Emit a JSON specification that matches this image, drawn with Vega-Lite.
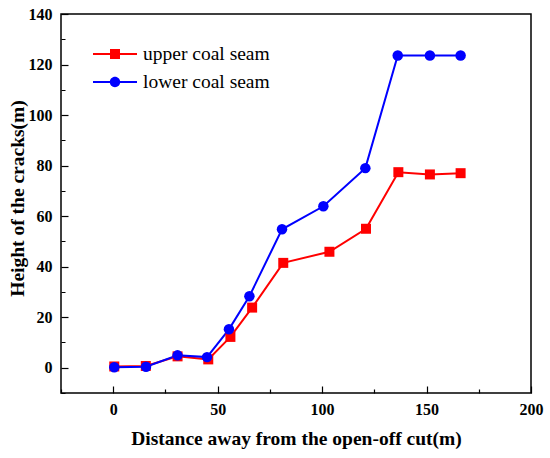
{
  "$schema": "https://vega.github.io/schema/vega-lite/v6.json",
  "width": 470,
  "height": 379,
  "autosize": "none",
  "padding": {"left": 61, "top": 14, "right": 19, "bottom": 65},
  "background": "white",
  "data": {
    "values": [
      {"series": "upper coal seam", "distance": 0.5, "height": 0.5},
      {"series": "upper coal seam", "distance": 15.6, "height": 0.7},
      {"series": "upper coal seam", "distance": 30.8, "height": 4.5},
      {"series": "upper coal seam", "distance": 45.5, "height": 3.3},
      {"series": "upper coal seam", "distance": 56.1, "height": 12.2},
      {"series": "upper coal seam", "distance": 66.5, "height": 23.8},
      {"series": "upper coal seam", "distance": 81.4, "height": 41.5},
      {"series": "upper coal seam", "distance": 103.5, "height": 45.9},
      {"series": "upper coal seam", "distance": 121, "height": 55},
      {"series": "upper coal seam", "distance": 136.5, "height": 77.4},
      {"series": "upper coal seam", "distance": 151.6, "height": 76.5},
      {"series": "upper coal seam", "distance": 166.3, "height": 77},
      {"series": "lower coal seam", "distance": 0.5, "height": 0.2},
      {"series": "lower coal seam", "distance": 15.7, "height": 0.4},
      {"series": "lower coal seam", "distance": 30.8, "height": 4.9},
      {"series": "lower coal seam", "distance": 44.9, "height": 4.2},
      {"series": "lower coal seam", "distance": 55.4, "height": 15.2},
      {"series": "lower coal seam", "distance": 65.2, "height": 28.3},
      {"series": "lower coal seam", "distance": 80.8, "height": 54.8},
      {"series": "lower coal seam", "distance": 100.6, "height": 63.9},
      {"series": "lower coal seam", "distance": 120.7, "height": 79},
      {"series": "lower coal seam", "distance": 136.2, "height": 123.6},
      {"series": "lower coal seam", "distance": 151.6, "height": 123.6},
      {"series": "lower coal seam", "distance": 166.3, "height": 123.6}
    ]
  },
  "encoding": {
    "x": {
      "field": "distance",
      "type": "quantitative",
      "scale": {"domain": [-25, 200], "nice": false, "zero": false},
      "axis": {
        "title": "Distance away from the open-off cut(m)",
        "values": [-25, 0, 25, 50, 75, 100, 125, 150, 175, 200],
        "labelExpr": "datum.value % 50 === 0 ? datum.label : ''",
        "offset": -7,
        "tickSize": 7,
        "tickDash": {"condition": {"test": "datum.value % 50 === 0", "value": []}, "value": [0, 3, 4, 100]},
        "labelPadding": 8,
        "titlePadding": 12
      }
    },
    "y": {
      "field": "height",
      "type": "quantitative",
      "scale": {"domain": [-10, 140], "nice": false, "zero": false},
      "axis": {
        "title": "Height of the cracks(m)",
        "values": [-10, 0, 10, 20, 30, 40, 50, 60, 70, 80, 90, 100, 110, 120, 130, 140],
        "labelExpr": "datum.value % 20 === 0 ? datum.label : ''",
        "offset": -7,
        "tickSize": 7,
        "tickDash": {"condition": {"test": "datum.value % 20 === 0", "value": []}, "value": [0, 3, 4, 100]},
        "labelPadding": 9,
        "titlePadding": 1,
        "titleY": 184
      }
    }
  },
  "layer": [
    {
      "transform": [{"filter": "datum.series === 'upper coal seam'"}],
      "mark": {"type": "line", "strokeWidth": 2, "color": "#ff0000"}
    },
    {
      "transform": [{"filter": "datum.series === 'lower coal seam'"}],
      "mark": {"type": "line", "strokeWidth": 2, "color": "#0000ff"}
    },
    {
      "transform": [{"filter": "datum.series === 'upper coal seam'"}],
      "mark": {"type": "point", "shape": "square", "filled": true, "size": 100, "color": "#ff0000", "opacity": 1}
    },
    {
      "transform": [{"filter": "datum.series === 'lower coal seam'"}],
      "mark": {"type": "point", "shape": "circle", "filled": true, "size": 110, "color": "#0000ff", "opacity": 1}
    },
    {
      "mark": {"type": "point", "filled": true, "opacity": 0},
      "encoding": {
        "color": {
          "field": "series",
          "type": "nominal",
          "scale": {"domain": ["upper coal seam", "lower coal seam"], "range": ["#ff0000", "#0000ff"]},
          "legend": {
            "title": null,
            "labelFont": "Liberation Serif",
            "labelFontSize": 19.5,
            "labelFontWeight": "normal",
            "labelColor": "#000000"
          }
        },
        "shape": {
          "field": "series",
          "type": "nominal",
          "scale": {
            "domain": ["upper coal seam", "lower coal seam"],
            "range": [
              "M-2.2,-0.1H2.2V0.1H-2.2ZM-0.5,-0.5H0.5V0.5H-0.5Z",
              "M-2.2,-0.1H2.2V0.1H-2.2ZM-0.52,0A0.52,0.52 0 1,1 0.52,0A0.52,0.52 0 1,1 -0.52,0Z"
            ]
          },
          "legend": {
            "title": null,
            "labelFont": "Liberation Serif",
            "labelFontSize": 19.5,
            "labelFontWeight": "normal",
            "labelColor": "#000000"
          }
        }
      }
    }
  ],
  "config": {
    "view": {"stroke": "#000000", "strokeWidth": 1.5},
    "axis": {
      "grid": false,
      "domain": false,
      "tickColor": "#000000",
      "tickWidth": 1.2,
      "labelFont": "Liberation Serif",
      "labelFontWeight": "bold",
      "labelFontSize": 16,
      "labelColor": "#000000",
      "labelFlush": false,
      "labelOverlap": false,
      "titleFont": "Liberation Serif",
      "titleFontWeight": "bold",
      "titleFontSize": 19.5,
      "titleColor": "#000000"
    },
    "legend": {
      "orient": "none",
      "legendX": 44,
      "legendY": 30,
      "padding": 0,
      "symbolSize": 400,
      "symbolOpacity": 1,
      "symbolStrokeWidth": 0,
      "labelOffset": 18,
      "rowPadding": 8,
      "labelFont": "Liberation Serif",
      "labelFontSize": 19.5,
      "labelColor": "#000000",
      "labelLimit": 300
    }
  }
}
